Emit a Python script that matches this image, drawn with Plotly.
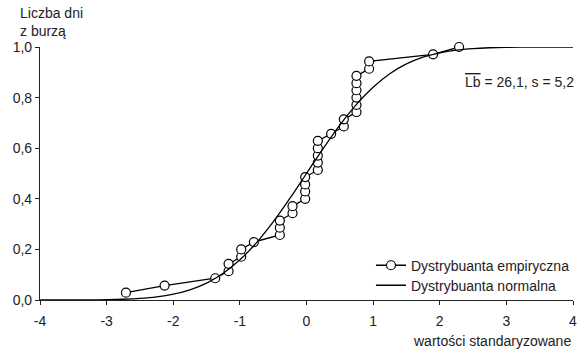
import plotly.graph_objects as go

# Empirical distribution (standardized values, cumulative fraction k/35)
emp_x = [-2.71, -2.13, -1.37, -1.17, -1.17, -0.98, -0.98, -0.79,
         -0.40, -0.40, -0.40, -0.21, -0.21,
         -0.02, -0.02, -0.02, -0.02,
         0.17, 0.17, 0.17, 0.17, 0.17,
         0.37, 0.56, 0.56,
         0.75, 0.75, 0.75, 0.75, 0.75, 0.75,
         0.94, 0.94, 1.90, 2.29]
emp_y = [0.029, 0.057, 0.086, 0.114, 0.143, 0.171, 0.200, 0.229,
         0.257, 0.286, 0.314, 0.343, 0.371,
         0.400, 0.429, 0.457, 0.486,
         0.514, 0.543, 0.571, 0.600, 0.629,
         0.657, 0.686, 0.714,
         0.743, 0.771, 0.800, 0.829, 0.857, 0.886,
         0.914, 0.943, 0.971, 1.000]

# Normal distribution curve (read at 0.25 steps)
norm_x = [-4.0, -3.75, -3.5, -3.25, -3.0, -2.75, -2.5, -2.25, -2.0, -1.75, -1.5, -1.25,
          -1.0, -0.75, -0.5, -0.25, 0.0, 0.25, 0.5, 0.75, 1.0, 1.25, 1.5, 1.75,
          2.0, 2.25, 2.5, 2.75, 3.0, 3.25, 3.5, 3.75, 4.0]
norm_y = [0.0000, 0.0001, 0.0002, 0.0006, 0.0013, 0.0030, 0.0062, 0.0122, 0.0228, 0.0401,
          0.0668, 0.1056, 0.1587, 0.2266, 0.3085, 0.4013, 0.5000, 0.5987, 0.6915, 0.7734,
          0.8413, 0.8944, 0.9332, 0.9599, 0.9772, 0.9878, 0.9938, 0.9970, 0.9987, 0.9994,
          0.9998, 0.9999, 1.0000]

x_ticks = [-4, -3, -2, -1, 0, 1, 2, 3, 4]
x_ticktext = ["-4", "-3", "-2", "-1", "0", "1", "2", "3", "4"]
y_ticks = [0.0, 0.2, 0.4, 0.6, 0.8, 1.0]
y_ticktext = ["0,0", "0,2", "0,4", "0,6", "0,8", "1,0"]

FONT = "Liberation Sans, Arial, sans-serif"
INK = "#222"

fig = go.Figure()
fig.add_trace(go.Scatter(
    x=emp_x, y=emp_y, mode="lines+markers", name="Dystrybuanta empiryczna",
    line=dict(color="black", width=1.3),
    marker=dict(symbol="circle", size=9, color="white", line=dict(color="black", width=1.2)),
    cliponaxis=False, legend="legend",
))
fig.add_trace(go.Scatter(
    x=norm_x, y=norm_y, mode="lines", name="Dystrybuanta normalna",
    line=dict(color="black", width=1.3, shape="spline"),
    cliponaxis=False, legend="legend2",
))

leg_common = dict(xanchor="left", yanchor="top", bgcolor="rgba(0,0,0,0)",
                  font=dict(size=14, color=INK), itemwidth=30)

fig.update_layout(
    width=578, height=355,
    margin=dict(l=40, r=5, t=47, b=55, autoexpand=False),
    paper_bgcolor="white", plot_bgcolor="white",
    font=dict(family=FONT, size=14, color=INK),
    showlegend=True,
    legend=dict(x=0.621, y=0.199, **leg_common),
    legend2=dict(x=0.621, y=0.120, **leg_common),
    xaxis=dict(range=[-4, 4], tickvals=x_ticks, ticktext=x_ticktext, ticks="outside", ticklen=4,
               tickcolor=INK, showline=True, linecolor=INK, linewidth=1.2,
               showgrid=False, zeroline=False, ticklabelstandoff=4, automargin=False),
    yaxis=dict(range=[0, 1], tickvals=y_ticks, ticktext=y_ticktext, ticks="outside", ticklen=4,
               tickcolor=INK, showline=True, linecolor=INK, linewidth=1.2,
               showgrid=False, zeroline=False, automargin=False),
    annotations=[
        dict(text="Liczba dni<br>z burzą", xref="paper", yref="paper",
             x=-0.041, y=1.10, xanchor="left", yanchor="middle", align="left",
             showarrow=False, font=dict(size=14, color=INK)),
        dict(text="wartości standaryzowane", xref="paper", yref="paper",
             x=1.0, y=-0.164, xanchor="right", yanchor="middle",
             showarrow=False, font=dict(size=14, color=INK)),
        dict(text='<span style="text-decoration:overline">Lb</span> = 26,1, s = 5,2',
             xref="paper", yref="paper", x=1.006, y=0.862, xanchor="right", yanchor="middle",
             showarrow=False, font=dict(size=14, color=INK)),
    ],
)

fig.write_html("out.html")
